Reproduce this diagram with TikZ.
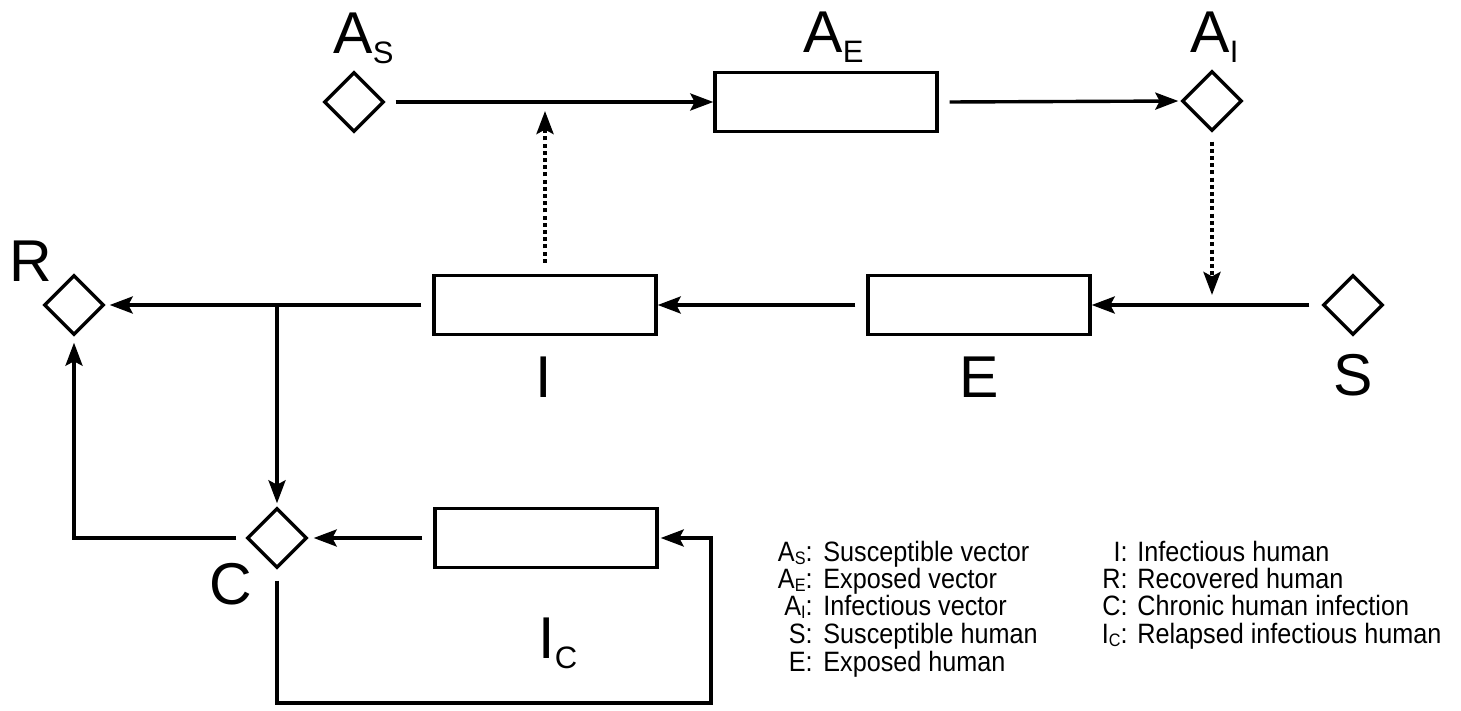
\documentclass[tikz,border=0pt]{standalone}
\usepackage{fontspec}
\setmainfont{Liberation Sans}
\newfontfamily\legfont{Liberation Sans}[FakeStretch=0.9]
\usetikzlibrary{shapes.geometric,arrows.meta}
\newcommand{\lowsub}[1]{\raisebox{-5pt}{\fontsize{15.5}{15.5}\selectfont #1}}
\newcommand{\legsub}[1]{\raisebox{-1.8pt}{\fontsize{9}{9}\selectfont #1}}
\begin{document}
\begin{tikzpicture}[x=0.5pt,y=-0.5pt,
  dia/.style={diamond, draw, line width=1.7pt, minimum width=30pt, minimum height=30pt, inner sep=0pt},
  box/.style={rectangle, draw, line width=1.7pt, minimum width=111pt, minimum height=29.5pt, inner sep=0pt},
  arr/.style={line width=1.7pt, -{Stealth[length=11.5pt,width=8.5pt,inset=2.2pt]}},
  dotarr/.style={line width=2pt, dash pattern=on 2pt off 1.6pt, -{Stealth[length=11.5pt,width=8.5pt,inset=2.2pt]}},
  lab/.style={font=\fontsize{29.5}{29.5}\selectfont, inner sep=0pt},
  leg/.style={font=\legfont\fontsize{14}{14}\selectfont, inner sep=0pt}]
\useasboundingbox (0,0) rectangle (1461,711);
% nodes
\node[dia] (AS) at (354,102) {};
\node[dia] (AI) at (1212,101) {};
\node[dia] (S) at (1353,305) {};
\node[dia] (R) at (74,305) {};
\node[dia] (C) at (277,538) {};
\node[box] (AE) at (826,102) {};
\node[box] (I) at (545,305) {};
\node[box] (E) at (979,305) {};
\node[box] (IC) at (546,538) {};
% labels
\node[lab, anchor=base west] (lAS) at (333,54) {A\lowsub{S}};
\node[lab, anchor=base west] (lAE) at (803,53) {A\lowsub{E}};
\node[lab, anchor=base west] (lAI) at (1190,53) {A\lowsub{I}};
\node[lab, anchor=base west] (lR) at (9,282) {R};
\node[lab, anchor=base] (lI) at (544,397) {I};
\node[lab, anchor=base] (lE) at (979,397) {E};
\node[lab, anchor=base] (lS) at (1353,395) {S};
\node[lab, anchor=base] (lC) at (231,604) {C};
\node[lab, anchor=base west] (lIC) at (538,658) {I\lowsub{C}};
% connectors
\draw[arr] ([xshift=5pt]AS.east) -- (AE.west);
\draw[arr, shorten >=1pt] ([xshift=5.5pt]AE.east) -- (AI.west);
\draw[dotarr] ([yshift=5.5pt]I.north) -- ([yshift=-4.5pt]I.north |- AS.east);
\draw[dotarr] ([yshift=-4.5pt]AI.south) -- ([yshift=5pt]AI.south |- S.west);
\draw[arr] ([xshift=-6pt]S.west) -- (E.east);
\draw[arr] ([xshift=-5.5pt]E.west) -- (I.east);
\draw[arr, shorten >=2pt] ([xshift=-5.5pt]I.west) -- (R.east);
\coordinate (J) at (C.north |- I.west);
\draw[arr, shorten >=1.5pt] (J) -- (C.north);
\draw[arr, shorten >=3pt] ([xshift=-4.5pt]C.west) -| (R.south);
\draw[arr, shorten >=2.5pt] ([xshift=-5.5pt]IC.west) -- (C.east);
\coordinate (B1) at (277,703);
\coordinate (B2) at (711,703);
\draw[arr, shorten >=1pt] ([yshift=-5.5pt]C.south) -- (B1) -- (B2) |- (IC.east);
% legend
\node[leg, anchor=base east] (k1) at (813,561) {A\legsub{S}:};
\node[leg, anchor=base west] (v1) at (823,561) {Susceptible vector};
\node[leg, anchor=base east] (k2) at (813,588) {A\legsub{E}:};
\node[leg, anchor=base west] (v2) at (823,588) {Exposed vector};
\node[leg, anchor=base east] (k3) at (813,615) {A\legsub{I}:};
\node[leg, anchor=base west] (v3) at (823,615) {Infectious vector};
\node[leg, anchor=base east] (k4) at (813,643) {S:};
\node[leg, anchor=base west] (v4) at (823,643) {Susceptible human};
\node[leg, anchor=base east] (k5) at (813,671) {E:};
\node[leg, anchor=base west] (v5) at (823,671) {Exposed human};
\node[leg, anchor=base east] (k6) at (1128,561) {I:};
\node[leg, anchor=base west] (v6) at (1137,561) {Infectious human};
\node[leg, anchor=base east] (k7) at (1128,588) {R:};
\node[leg, anchor=base west] (v7) at (1137,588) {Recovered human};
\node[leg, anchor=base east] (k8) at (1128,615) {C:};
\node[leg, anchor=base west] (v8) at (1137,615) {Chronic human infection};
\node[leg, anchor=base east] (k9) at (1128,643) {I\legsub{C}:};
\node[leg, anchor=base west] (v9) at (1137,643) {Relapsed infectious human};
\end{tikzpicture}
\end{document}
